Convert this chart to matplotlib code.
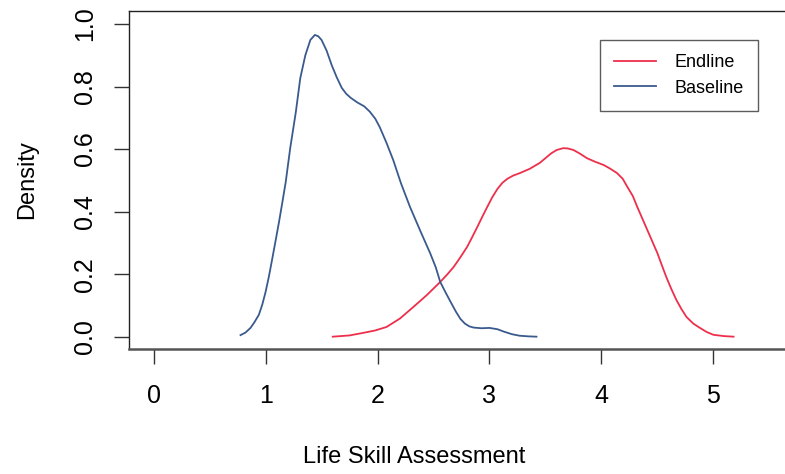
import matplotlib
matplotlib.use("Agg")
import matplotlib.pyplot as plt

plt.rcParams['font.family'] = ['Liberation Sans', 'DejaVu Sans']

# density curves
base_x = [0.776, 0.82, 0.865, 0.90, 0.94, 0.97, 1.0, 1.03, 1.06, 1.09, 1.12, 1.15, 1.18, 1.22,
          1.27, 1.31, 1.355, 1.40, 1.44, 1.47, 1.50, 1.545, 1.59, 1.635, 1.68, 1.72, 1.76, 1.82,
          1.88, 1.93, 1.98, 2.02, 2.08, 2.14, 2.21, 2.29, 2.38, 2.47, 2.52, 2.56, 2.61, 2.65,
          2.70, 2.74, 2.78, 2.82, 2.86, 2.93, 3.0, 3.07, 3.13, 3.20, 3.27, 3.35, 3.42]
base_y = [0.005, 0.013, 0.028, 0.046, 0.07, 0.102, 0.143, 0.193, 0.25, 0.308, 0.367, 0.43, 0.495, 0.603,
          0.718, 0.827, 0.90, 0.949, 0.965, 0.961, 0.949, 0.915, 0.869, 0.83, 0.796, 0.777, 0.764, 0.749,
          0.737, 0.72, 0.697, 0.67, 0.62, 0.565, 0.49, 0.415, 0.34, 0.267, 0.222, 0.175, 0.14, 0.113,
          0.08, 0.057, 0.042, 0.033, 0.029, 0.027, 0.028, 0.024, 0.016, 0.008, 0.003, 0.001, 0.0]

end_x = [1.60, 1.75, 1.87, 1.98, 2.08, 2.20, 2.32, 2.44, 2.56, 2.62, 2.68, 2.74, 2.80, 2.845, 2.89,
         2.935, 2.98, 3.025, 3.07, 3.115, 3.16, 3.21, 3.27, 3.36, 3.45, 3.50, 3.55, 3.60, 3.66, 3.70,
         3.75, 3.81, 3.87, 3.94, 4.02, 4.08, 4.14, 4.19, 4.23, 4.28, 4.32, 4.365, 4.41, 4.455, 4.50,
         4.54, 4.58, 4.625, 4.67, 4.715, 4.76, 4.82, 4.88, 4.94, 5.0, 5.09, 5.18]
end_y = [0.0, 0.004, 0.012, 0.02, 0.031, 0.058, 0.095, 0.133, 0.175, 0.198, 0.223, 0.254, 0.287, 0.318, 0.35,
         0.383, 0.415, 0.446, 0.472, 0.492, 0.505, 0.515, 0.523, 0.537, 0.556, 0.571, 0.586, 0.597, 0.603, 0.602,
         0.597, 0.585, 0.571, 0.56, 0.549, 0.537, 0.523, 0.505, 0.48, 0.45, 0.415, 0.378, 0.341, 0.304, 0.267,
         0.228, 0.19, 0.152, 0.117, 0.088, 0.063, 0.042, 0.028, 0.015, 0.006, 0.002, 0.0]

x_ticks = [0, 1, 2, 3, 4, 5]
y_ticks = [0.0, 0.2, 0.4, 0.6, 0.8, 1.0]

red = '#EE2F4C'
blue = '#3A5A8E'

fig = plt.figure(figsize=(7.85, 4.74), dpi=100)
ax = fig.add_axes([129 / 785, 125 / 474, 665 / 785, 338 / 474])

ax.plot(end_x, end_y, color=red, lw=1.3, label='Endline', solid_joinstyle='round')
ax.plot(base_x, base_y, color=blue, lw=1.3, label='Baseline', solid_joinstyle='round')

ax.set_xlim(-0.22, 5.72)
ax.set_ylim(-0.0394, 1.0416)

ax.set_xticks(x_ticks)
ax.set_xticklabels([str(t) for t in x_ticks], fontsize=18)
ax.set_yticks(y_ticks)
ax.set_yticklabels(['%.1f' % t for t in y_ticks], fontsize=18, rotation=90, va='center')
ax.tick_params(axis='x', length=11, width=1.0, pad=14, color='#333333')
ax.tick_params(axis='y', length=11, width=1.0, pad=12, color='#333333')

for s in ['left', 'top']:
    ax.spines[s].set_linewidth(1.0)
    ax.spines[s].set_color('#222222')
ax.spines['bottom'].set_linewidth(1.8)
ax.spines['bottom'].set_color('#555555')
ax.spines['right'].set_visible(False)

ax.set_xlabel('Life Skill Assessment', fontsize=17, va='center')
ax.set_ylabel('Density', fontsize=17, va='center')
ax.xaxis.set_label_coords((414 - 129) / 665, -(457 - 349) / 338)
ax.yaxis.set_label_coords(-(129 - 27) / 665, 0.5)

leg = ax.legend(loc='upper left', bbox_to_anchor=((600 - 129) / 665, 1 - (40 - 11) / 338),
                fontsize=13, frameon=True, fancybox=False, handlelength=2.3,
                borderpad=0.8, labelspacing=0.45, handletextpad=1.0, borderaxespad=0)
leg.get_frame().set_edgecolor('#333333')
leg.get_frame().set_linewidth(1.0)

fig.savefig('out.png', dpi=100)
